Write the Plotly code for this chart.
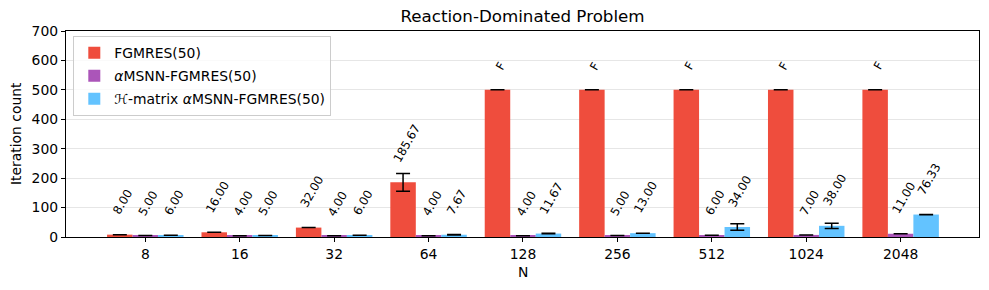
import plotly.graph_objects as go

categories = ["8", "16", "32", "64", "128", "256", "512", "1024", "2048"]
max_iter = 500

fgmres = [8.00, 16.00, 32.00, 185.67, 500, 500, 500, 500, 500]
fgmres_err = [0, 0, 0, 30.5, 0, 0, 0, 0, 0]
msnn = [5.00, 4.00, 4.00, 4.00, 4.00, 5.00, 6.00, 7.00, 11.00]
msnn_err = [0, 0, 0, 0, 0, 0, 0, 0, 0]
hmsnn = [6.00, 5.00, 6.00, 7.67, 11.67, 13.00, 34.00, 38.00, 76.33]
hmsnn_err = [0, 0, 0, 1.0, 1.0, 0, 10.8, 9.0, 0.5]

series_names = ["FGMRES(50)", "<i>α</i>MSNN-FGMRES(50)", "ℋ-matrix <i>α</i>MSNN-FGMRES(50)"]
colors = ["#EF4D3D", "#AB55B9", "#63C3FF"]

series = [fgmres, msnn, hmsnn]
errors = [fgmres_err, msnn_err, hmsnn_err]

width = 0.27
offsets = [-width, 0, width]
idx = list(range(len(categories)))

L, R, T, B = 66, 10, 31, 53
W, H = 989, 290
pw, ph = W - L - R, H - T - B

fig = go.Figure()
annotations = []
for s, (vals, errs, name, col, off) in enumerate(zip(series, errors, series_names, colors, offsets)):
    xs = [i + off for i in idx]
    fig.add_trace(go.Bar(
        x=xs, y=vals, width=width, name=name, legendgroup=f"g{s}",
        marker=dict(color=col, line=dict(width=0)),
        error_y=dict(type="data", array=errs, visible=True, color="black", thickness=1.5, width=7),
    ))
    for x, v in zip(xs, vals):
        label = "F" if (s == 0 and v >= max_iter) else f"{v:.2f}"
        annotations.append(dict(
            x=x, y=v + 55, xref="x", yref="y", text=label, showarrow=False,
            textangle=-60, xanchor="center", yanchor="bottom", xshift=3,
            font=dict(family="DejaVu Sans", size=11.8, color="black"), borderpad=0,
        ))

# axis titles
annotations.append(dict(text="Iteration count", xref="paper", yref="paper",
                        x=-(L - 16) / pw, y=0.5, showarrow=False, textangle=-90,
                        xanchor="center", yanchor="middle",
                        font=dict(family="DejaVu Sans", size=13.9, color="black")))
annotations.append(dict(text="N", xref="paper", yref="paper",
                        x=0.5, y=-(272 - (T + ph)) / ph, showarrow=False,
                        xanchor="center", yanchor="middle",
                        font=dict(family="DejaVu Sans", size=13.9, color="black")))

fig.update_layout(
    width=W, height=H,
    margin=dict(l=L, r=R, t=T, b=B, autoexpand=False),
    paper_bgcolor="white", plot_bgcolor="white",
    barmode="overlay",
    font=dict(family="DejaVu Sans", size=13.9, color="black"),
    title=dict(text="Reaction-Dominated Problem", x=(L + pw / 2) / W, xanchor="center",
               y=1 - 16.5 / H, yanchor="middle",
               font=dict(size=16.7, family="DejaVu Sans", color="black")),
    annotations=annotations,
    legend=dict(x=0.008, y=0.975, xanchor="left", yanchor="top",
                bgcolor="rgba(255,255,255,0.8)", bordercolor="#CCCCCC", borderwidth=1,
                tracegroupgap=2,
                font=dict(size=13.9, family="DejaVu Sans")),
    showlegend=True,
)
fig.update_xaxes(
    range=[-0.84, 8.83], tickmode="array", tickvals=idx, ticktext=categories,
    showline=True, linecolor="black", linewidth=1.2, mirror=True,
    ticks="outside", ticklen=4, tickcolor="black", showgrid=False, zeroline=False,
    automargin=False,
)
fig.update_yaxes(
    range=[0, 700], dtick=100,
    showline=True, linecolor="black", linewidth=1.2, mirror=True,
    ticks="outside", ticklen=4, tickcolor="black",
    showgrid=True, gridcolor="#E6E6E6", gridwidth=1, zeroline=False,
    automargin=False,
)

fig.write_html("out.html", config={"displayModeBar": False},
               post_script="document.body.style.margin='0px';")
